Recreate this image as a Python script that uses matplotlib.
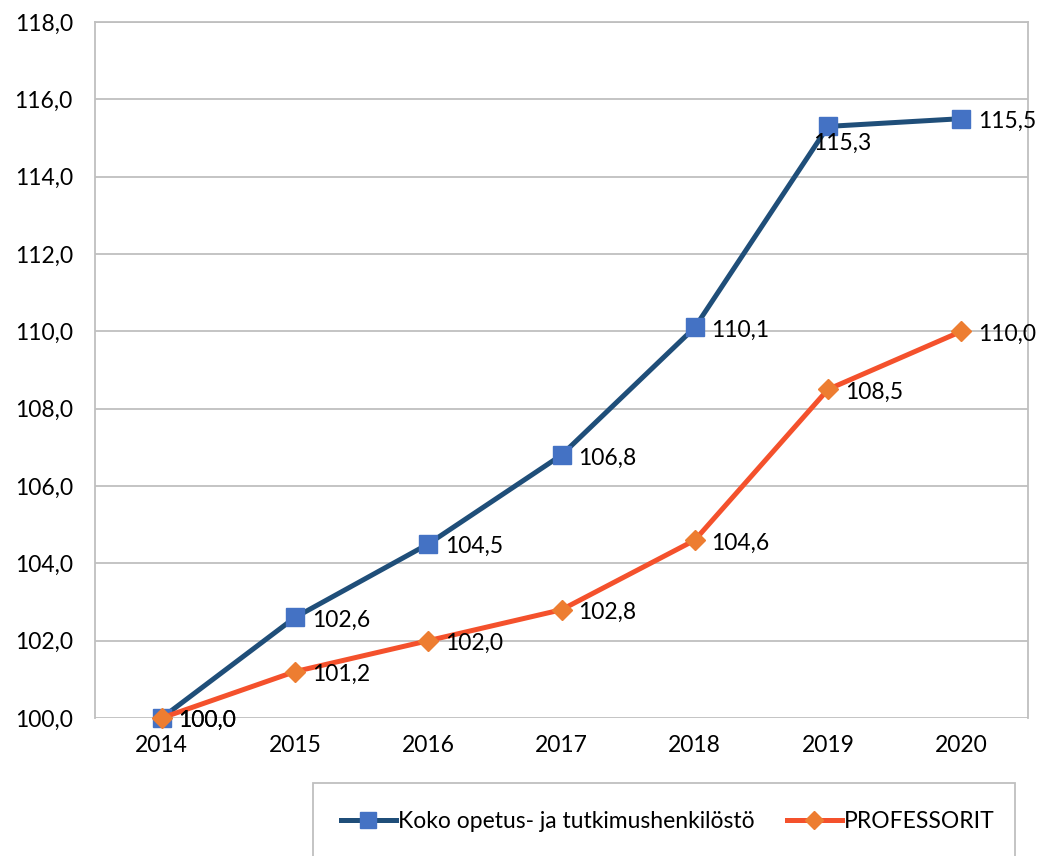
import matplotlib.pyplot as plt
from matplotlib.patches import Rectangle

plt.rcParams['font.family'] = ['Lato', 'DejaVu Sans']

years = ['2014', '2015', '2016', '2017', '2018', '2019', '2020']
koko = [100.0, 102.6, 104.5, 106.8, 110.1, 115.3, 115.5]
prof = [100.0, 101.2, 102.0, 102.8, 104.6, 108.5, 110.0]
koko_labels = ['100,0', '102,6', '104,5', '106,8', '110,1', '115,3', '115,5']
prof_labels = ['100,0', '101,2', '102,0', '102,8', '104,6', '108,5', '110,0']
yticks = [100, 102, 104, 106, 108, 110, 112, 114, 116, 118]

fig = plt.figure(figsize=(10.41, 8.56), dpi=100)
ax = fig.add_axes([0.0913, 0.1612, 0.8962, 0.8131])

x = list(range(len(years)))
ax.plot(x, koko, color='#1F4E79', lw=3.6, marker='s', ms=13, clip_on=False,
        mfc='#4472C4', mec='#4472C4', label='Koko opetus- ja tutkimushenkilöstö', zorder=3)
ax.plot(x, prof, color='#F4512C', lw=3.6, marker='D', ms=10.5, clip_on=False,
        mfc='#ED7D31', mec='#ED7D31', label='PROFESSORIT', zorder=4)

fs = 16.5
for i in range(len(years)):
    off = (-11, -12) if i == 5 else (12, -2)
    ax.annotate(koko_labels[i], (x[i], koko[i]), xytext=off, textcoords='offset points',
                ha='left', va='center', fontsize=fs, zorder=5)
    ax.annotate(prof_labels[i], (x[i], prof[i]), xytext=(12, -2), textcoords='offset points',
                ha='left', va='center', fontsize=fs, zorder=5)

ax.set_xlim(-0.5, 6.5)
ax.set_ylim(100, 118)
ax.set_xticks(x)
ax.set_xticklabels(years)
ax.set_yticks(yticks)
ax.yaxis.set_major_formatter(plt.FuncFormatter(lambda v, p: ('%.1f' % v).replace('.', ',')))
ax.tick_params(length=0, labelsize=fs, pad=12)
ax.tick_params(axis='y', pad=16)
ax.grid(axis='y', color='#BFBFBF', lw=1.3)
ax.set_axisbelow(True)
for s in ['left', 'right', 'top']:
    ax.spines[s].set_color('#BFBFBF')
    ax.spines[s].set_linewidth(1.3)
ax.spines['bottom'].set_visible(False)

# legend box
fig.patches.append(Rectangle((313 / 1041, -0.01), 702 / 1041, (856 - 783) / 856 + 0.01,
                             transform=fig.transFigure, fill=False, ec='#BFBFBF', lw=1.3))
fig.legend(loc='center', bbox_to_anchor=(668 / 1041, 1 - 822 / 856), ncol=2, frameon=False,
           fontsize=fs, handlelength=2.4, handletextpad=0.1, columnspacing=1.4,
           markerscale=0.9)

fig.savefig('out.png')
